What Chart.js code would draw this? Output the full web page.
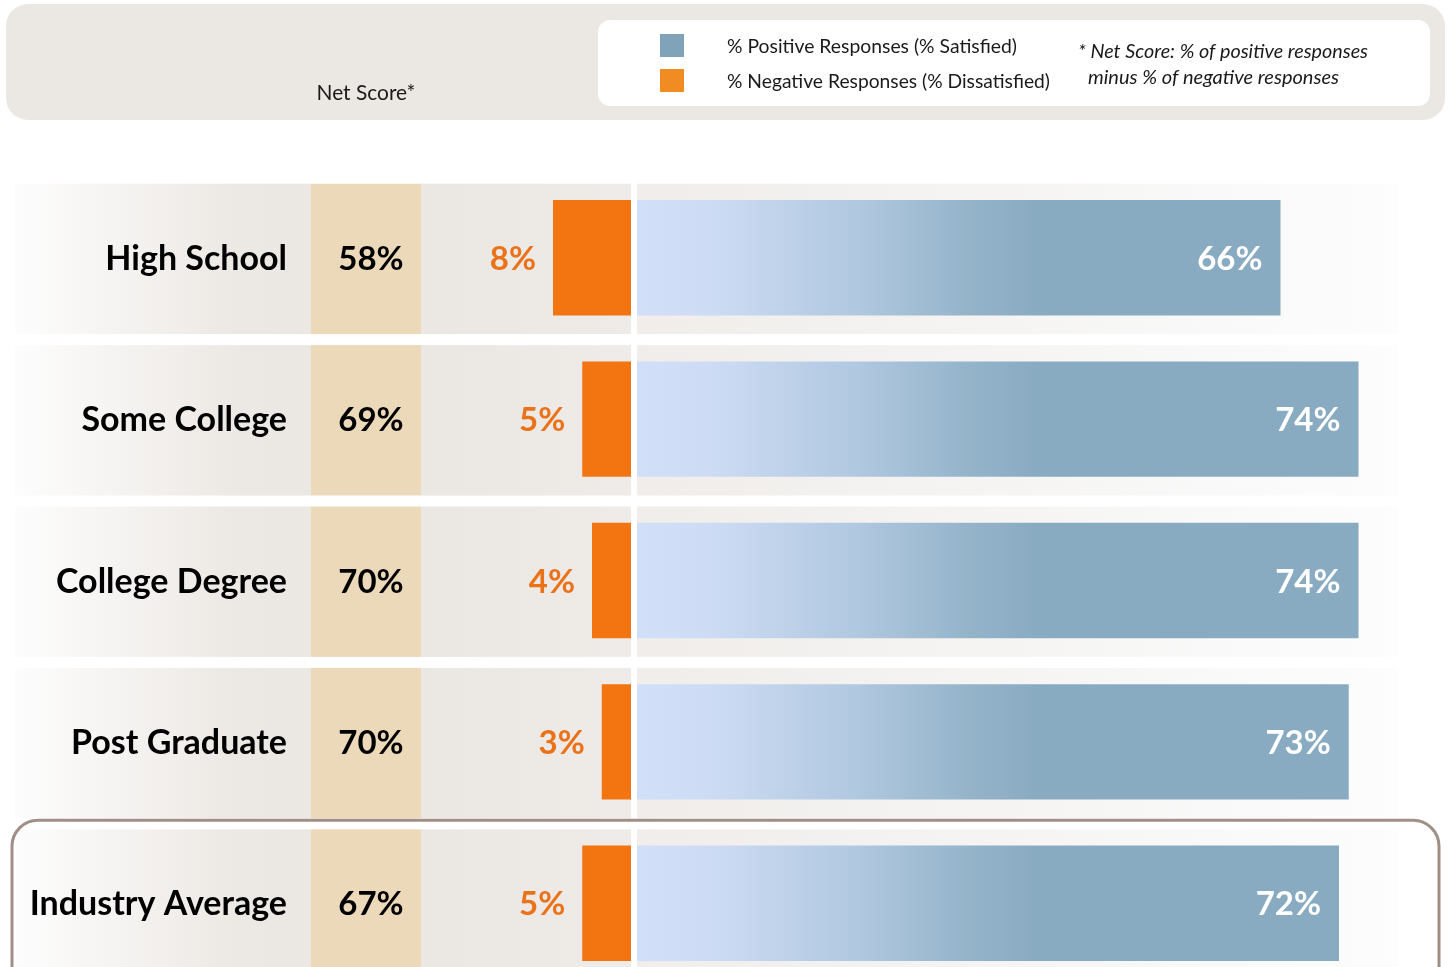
<!DOCTYPE html>
<html>
<head>
<meta charset="utf-8">
<title>Satisfaction by Education</title>
<script src="https://cdn.jsdelivr.net/npm/chart.js@4.4.1/dist/chart.umd.min.js"></script>
<style>
  html, body { margin: 0; padding: 0; background: #ffffff; overflow: hidden; }
  #wrap { width: 1449px; height: 1000px; position: relative; }
</style>
</head>
<body>
<div id="wrap"><canvas id="chart" width="1449" height="1000"></canvas></div>
<script>
// ---- data ----
const categories = ['High School', 'Some College', 'College Degree', 'Post Graduate', 'Industry Average'];
const netScores  = [58, 69, 70, 70, 67];
const positive   = [66, 74, 74, 73, 72];
const negative   = [8, 5, 4, 3, 5];
const legendLabels = ['% Positive Responses (% Satisfied)', '% Negative Responses (% Dissatisfied)'];
const noteLines    = ['* Net Score: % of positive responses', 'minus % of negative responses'];
const netScoreTitle = 'Net Score*';
const highlightIndex = 4;

// ---- layout ----
const W = 1449;
const PX_PER_UNIT = 9.75;
const ZERO_POS = 637;   // where satisfied bars start
const ZERO_NEG = 631;   // where dissatisfied bars end
const FONT = 'Lato, "Open Sans", sans-serif';
const ORANGE_BAR = '#f27512';
const ORANGE_TEXT = '#ea7219';
const BLUE_SOLID = '#89abc1';

function posGradient(chart) {
  const xs = chart.scales && chart.scales.xPos;
  if (!xs) return BLUE_SOLID;
  const x0 = xs.getPixelForValue(0);
  if (!Number.isFinite(x0)) return BLUE_SOLID;
  const g = chart.ctx.createLinearGradient(x0, 0, x0 + 400, 0);
  g.addColorStop(0.00, '#d1e0f8');
  g.addColorStop(0.18, '#cddcf4');
  g.addColorStop(0.55, '#b0c8e0');
  g.addColorStop(0.84, '#93b3c9');
  g.addColorStop(1.00, BLUE_SOLID);
  return g;
}

// Row bands, beige net-score column and white separators behind the bars
const rowBands = {
  id: 'rowBands',
  beforeDatasetsDraw(chart) {
    const { ctx } = chart;
    const y = chart.scales.y;
    const step = Math.abs(y.getPixelForValue(1) - y.getPixelForValue(0));
    const bandH = step - 11;
    ctx.save();
    categories.forEach((_, i) => {
      const cy = y.getPixelForValue(i);
      const top = cy - 74;
      // label area: fades in from white
      let g = ctx.createLinearGradient(15, 0, 311, 0);
      g.addColorStop(0, '#fdfdfd');
      g.addColorStop(0.75, '#ece8e4');
      g.addColorStop(1, '#ebe7e3');
      ctx.fillStyle = g;
      ctx.fillRect(15, top, 296, bandH);
      // net score column
      ctx.fillStyle = '#ecd9ba';
      ctx.fillRect(311, top, 110, bandH);
      // dissatisfied side
      g = ctx.createLinearGradient(421, 0, ZERO_NEG, 0);
      g.addColorStop(0, '#ebe7e3');
      g.addColorStop(1, '#eeebe8');
      ctx.fillStyle = g;
      ctx.fillRect(421, top, ZERO_NEG - 421, bandH);
      // satisfied side: fades out to white
      g = ctx.createLinearGradient(ZERO_POS, 0, 1398, 0);
      g.addColorStop(0, '#f0edea');
      g.addColorStop(0.45, '#f5f4f3');
      g.addColorStop(0.9, '#fbfbfb');
      g.addColorStop(1, '#fdfdfd');
      ctx.fillStyle = g;
      ctx.fillRect(ZERO_POS, top, 1398 - ZERO_POS, bandH);
    });
    ctx.restore();
  }
};

// Header panel, legend, footnote, row labels and value labels
const annotations = {
  id: 'annotations',
  afterDatasetsDraw(chart) {
    const { ctx } = chart;
    const y = chart.scales.y;
    const xPos = chart.scales.xPos;
    const xNeg = chart.scales.xNeg;
    ctx.save();

    // header panel
    ctx.fillStyle = '#ebe7e3';
    ctx.beginPath();
    ctx.roundRect(6, 4, 1439, 116, 22);
    ctx.fill();
    ctx.fillStyle = '#ffffff';
    ctx.beginPath();
    ctx.roundRect(598, 20, 832, 86, 12);
    ctx.fill();

    ctx.fillStyle = '#1a1a1a';
    ctx.font = '21px ' + FONT;
    ctx.textAlign = 'center';
    ctx.textBaseline = 'alphabetic';
    ctx.fillText(netScoreTitle, 366, 100, 99);

    // legend swatches + texts
    ctx.fillStyle = '#80a3b9';
    ctx.fillRect(660, 34, 24, 23);
    ctx.fillStyle = '#f08c22';
    ctx.fillRect(660, 69, 24, 23);
    ctx.fillStyle = '#1a1a1a';
    ctx.textAlign = 'left';
    ctx.font = '20px ' + FONT;
    ctx.fillText(legendLabels[0], 727, 53, 290);
    ctx.fillText(legendLabels[1], 727, 88, 323);

    // footnote
    ctx.font = 'italic 20px ' + FONT;
    ctx.fillText(noteLines[0], 1078, 58, 290);
    ctx.fillText(noteLines[1], 1088, 84, 252);

    // row labels and values
    categories.forEach((name, i) => {
      const cy = y.getPixelForValue(i);
      const base = cy + 12;
      ctx.font = 'bold 34px ' + FONT;
      ctx.fillStyle = '#000000';
      ctx.textAlign = 'right';
      ctx.fillText(name, 287, base);
      ctx.font = 'bold 33px ' + FONT;
      ctx.textAlign = 'center';
      ctx.fillText(netScores[i] + '%', 371, base);

      ctx.textAlign = 'right';
      ctx.fillStyle = ORANGE_TEXT;
      ctx.fillText(negative[i] + '%', xNeg.getPixelForValue(-negative[i]) - 17, base);

      ctx.fillStyle = '#ffffff';
      ctx.fillText(positive[i] + '%', xPos.getPixelForValue(positive[i]) - 18, base);
    });

    // outline around the industry row
    const hy = y.getPixelForValue(highlightIndex);
    ctx.strokeStyle = '#a08f86';
    ctx.lineWidth = 3;
    ctx.beginPath();
    ctx.roundRect(12, hy - 83, 1427, 190, 26);
    ctx.stroke();

    ctx.restore();
  }
};

new Chart(document.getElementById('chart'), {
  type: 'bar',
  data: {
    labels: categories,
    datasets: [
      {
        label: legendLabels[1],
        data: negative.map(v => -v),
        xAxisID: 'xNeg',
        backgroundColor: ORANGE_BAR,
        grouped: false,
        barPercentage: 0.715,
        categoryPercentage: 1
      },
      {
        label: legendLabels[0],
        data: positive,
        xAxisID: 'xPos',
        backgroundColor: (c) => posGradient(c.chart),
        grouped: false,
        barPercentage: 0.715,
        categoryPercentage: 1
      }
    ]
  },
  options: {
    indexAxis: 'y',
    responsive: false,
    animation: false,
    layout: { padding: { top: 177, bottom: 16, left: 0, right: 0 } },
    scales: {
      y: { display: false, grid: { display: false } },
      xPos: {
        type: 'linear', display: false,
        min: -ZERO_POS / PX_PER_UNIT, max: (W - ZERO_POS) / PX_PER_UNIT
      },
      xNeg: {
        type: 'linear', display: false,
        min: -ZERO_NEG / PX_PER_UNIT, max: (W - ZERO_NEG) / PX_PER_UNIT
      }
    },
    plugins: {
      legend: { display: false },
      tooltip: { enabled: false }
    }
  },
  plugins: [rowBands, annotations]
});
</script>
</body>
</html>
